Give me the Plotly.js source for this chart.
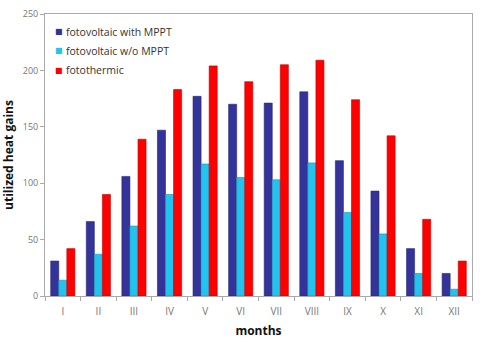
<!DOCTYPE html>
<html>
<head>
<meta charset="utf-8">
<script src="https://cdn.plot.ly/plotly-3.0.1.min.js"></script>
<style>
  html, body { margin: 0; padding: 0; background: #fff; }
  #graph { width: 480px; height: 344px; }
</style>
</head>
<body>
<div id="graph"></div>
<script>
// meses en números romanos
const months = ['I', 'II', 'III', 'IV', 'V', 'VI', 'VII', 'VIII', 'IX', 'X', 'XI', 'XII'];

// valores
const pvWithMppt = [31, 66, 106, 147, 177, 170, 171, 181, 120, 93, 42, 20];
const pvWithoutMppt = [14, 37, 62, 90, 117, 105, 103, 118, 74, 55, 20, 6];
const fotothermic = [42, 90, 139, 183, 204, 190, 205, 209, 174, 142, 68, 31];

const names = ['fotovoltaic with MPPT', 'fotovoltaic w/o MPPT', 'fotothermic'];
const colors = ['#333399', '#22c4ee', '#ff0000'];
const edges = ['#26267a', '#1a8fb0', '#c00000'];

const series = [pvWithMppt, pvWithoutMppt, fotothermic];

const plotData = series.map((vals, i) => ({
    x: months,
    y: vals,
    name: names[i],
    type: 'bar',
    showlegend: false,
    marker: { color: colors[i], line: { color: edges[i], width: 0.6 } }
}));

// leyenda a mano: cuadradito de color + texto
const legendRowsY = [0.937, 0.870, 0.801];
const annotations = [];
names.forEach((name, i) => {
    annotations.push({
        xref: 'paper', yref: 'paper', x: 0.019, y: legendRowsY[i],
        xanchor: 'left', yanchor: 'middle', showarrow: false,
        text: '■', font: { family: 'DejaVu Sans', size: 8, color: colors[i] }
    });
    annotations.push({
        xref: 'paper', yref: 'paper', x: 0.044, y: legendRowsY[i],
        xanchor: 'left', yanchor: 'middle', showarrow: false,
        text: name, font: { size: 10.5, color: '#333' }
    });
});

const layout = {
    width: 480,
    height: 344,
    margin: { l: 45, r: 8, t: 14, b: 48 },
    paper_bgcolor: '#fff',
    plot_bgcolor: '#fff',
    font: { family: 'Open Sans, DejaVu Sans, sans-serif', color: '#333' },
    barmode: 'group',
    bargap: 0.32,
    bargroupgap: 0,
    showlegend: false,
    annotations: annotations,
    xaxis: {
        type: 'category',
        title: { text: 'months', font: { size: 12, color: '#111', weight: 'bold' }, standoff: 9 },
        tickson: 'boundaries',
        ticks: 'outside',
        ticklen: 4,
        tickcolor: '#aaa',
        ticklabelstandoff: 6,
        showline: true,
        linecolor: '#aaa',
        linewidth: 1,
        mirror: true,
        showgrid: false,
        tickfont: { size: 10, color: '#777' }
    },
    yaxis: {
        title: { text: 'utilized heat gains', font: { size: 12, color: '#111', weight: 'bold' }, standoff: 10 },
        range: [0, 250],
        dtick: 50,
        ticks: 'outside',
        ticklen: 4,
        tickcolor: '#aaa',
        showline: true,
        linecolor: '#aaa',
        linewidth: 1,
        mirror: true,
        showgrid: false,
        zeroline: false,
        tickfont: { size: 9, color: '#777' }
    }
};

Plotly.newPlot('graph', plotData, layout, { displayModeBar: false, staticPlot: true });
</script>
</body>
</html>
